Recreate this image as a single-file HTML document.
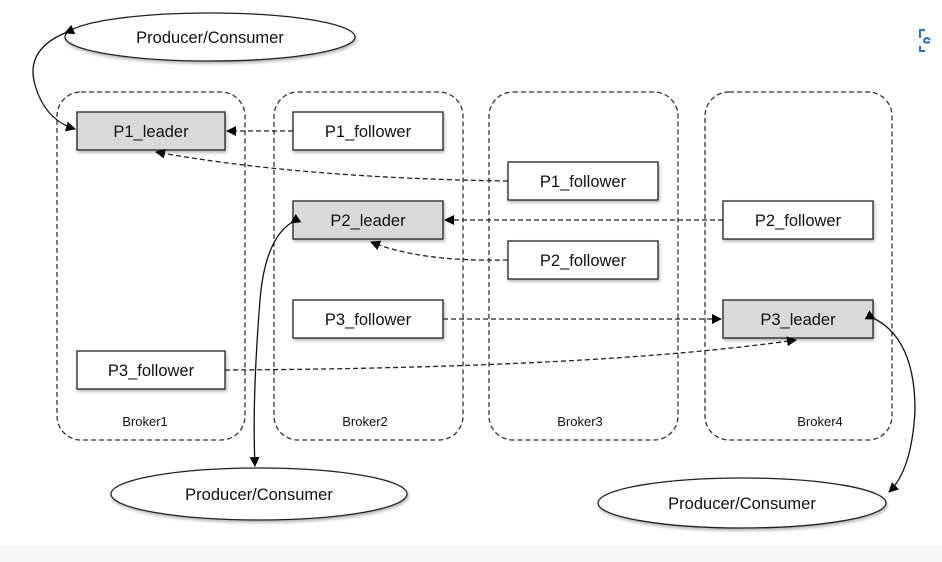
<!DOCTYPE html>
<html><head><style>body{margin:0;background:#fff}svg{display:block}text{font-family:"Liberation Sans",sans-serif;fill:#111}</style></head><body>
<svg width="942" height="562" viewBox="0 0 942 562">
<defs><marker id="a" markerWidth="10" markerHeight="10" refX="9" refY="5" orient="auto" markerUnits="userSpaceOnUse"><path d="M0,0L10,5L0,10z" fill="#000"/></marker>
<filter id="s"><feDropShadow dx="1" dy="2" stdDeviation="1.5" flood-opacity="0.3"/></filter></defs>
<rect x="0" y="546" width="942" height="16" fill="#f7f7f7"/>
<g fill="none" stroke="#333" stroke-width="1.3" stroke-dasharray="5,3">
<rect x="57" y="92" width="188" height="348" rx="24"/>
<rect x="274" y="92" width="189" height="348" rx="24"/>
<rect x="489" y="92" width="189" height="348" rx="24"/>
<rect x="705" y="92" width="187" height="348" rx="24"/>
</g>
<g font-size="13" text-anchor="middle"><text x="145" y="426">Broker1</text><text x="365" y="426">Broker2</text><text x="580" y="426">Broker3</text><text x="820" y="426">Broker4</text></g>
<g stroke="#222" stroke-width="1.3" filter="url(#s)">
<ellipse cx="210" cy="37" rx="145" ry="24" fill="#fff"/>
<ellipse cx="259" cy="494" rx="148" ry="26" fill="#fff"/>
<ellipse cx="742" cy="503" rx="144" ry="25" fill="#fff"/>
<rect x="77" y="112" width="148" height="38" fill="#d9d9d9"/>
<rect x="293" y="112" width="150" height="38" fill="#fff"/>
<rect x="508" y="162" width="150" height="38" fill="#fff"/>
<rect x="293" y="201" width="150" height="38" fill="#d9d9d9"/>
<rect x="723" y="201" width="150" height="38" fill="#fff"/>
<rect x="508" y="241" width="150" height="38" fill="#fff"/>
<rect x="293" y="300" width="150" height="38" fill="#fff"/>
<rect x="723" y="300" width="150" height="38" fill="#d9d9d9"/>
<rect x="77" y="351" width="148" height="38" fill="#fff"/>
</g>
<g font-size="16.5" text-anchor="middle">
<text x="210" y="43">Producer/Consumer</text><text x="259" y="500">Producer/Consumer</text><text x="742" y="509">Producer/Consumer</text>
<text x="151" y="137">P1_leader</text><text x="368" y="137">P1_follower</text><text x="583" y="187">P1_follower</text>
<text x="368" y="226">P2_leader</text><text x="798" y="226">P2_follower</text><text x="583" y="266">P2_follower</text>
<text x="368" y="325">P3_follower</text><text x="798" y="325">P3_leader</text><text x="151" y="376">P3_follower</text>
</g>
<g fill="none" stroke="#222" stroke-width="1.3" stroke-dasharray="5,3">
<path d="M293,131L227,131" marker-end="url(#a)"/>
<path d="M508,181Q300,178 156,152" marker-end="url(#a)"/>
<path d="M723,220L445,220" marker-end="url(#a)"/>
<path d="M508,260Q420,262 371,242" marker-end="url(#a)"/>
<path d="M443,319L721,319" marker-end="url(#a)"/>
<path d="M225,370Q600,368 796,340" marker-end="url(#a)"/>
</g>
<g fill="none" stroke="#111" stroke-width="1.3">
<path d="M65,33Q25,50 35,85Q45,120 75,129" marker-start="url(#a)" marker-end="url(#a)"/>
<path d="M291,223Q265,240 260,300Q252,400 255,466" marker-start="url(#a)" marker-end="url(#a)"/>
<path d="M875,319Q915,340 915,410Q912,470 889,492" marker-start="url(#a)" marker-end="url(#a)"/>
</g>
<g fill="none" stroke="#2a6fd6" stroke-width="2"><path d="M925,30h-5v8M920,46v5h5"/><path d="M930,40q-3,-4 -6,0q0,4 6,2"/></g>
</svg>
</body></html>
